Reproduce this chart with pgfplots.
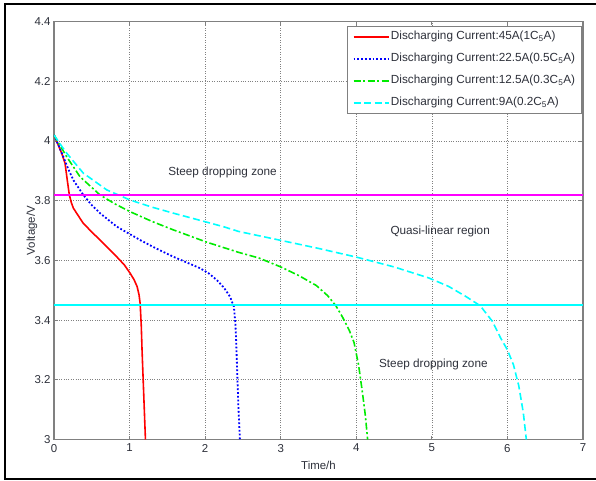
\documentclass[border=0pt]{standalone}
\usepackage{pgfplots}
\pgfplotsset{compat=1.18}
\usepackage{fontspec}
\setmainfont{Liberation Sans}
\definecolor{axgray}{RGB}{128,128,128}
\definecolor{txtgray}{RGB}{45,48,58}
\definecolor{myred}{RGB}{255,0,0}
\definecolor{myblue}{RGB}{0,0,255}
\definecolor{mygreen}{RGB}{0,235,0}
\definecolor{mycyan}{RGB}{0,255,255}
\definecolor{mymag}{RGB}{255,0,255}
\begin{document}
\begin{tikzpicture}[x=1bp,y=1bp]
\begin{axis}[
  at={(0,0)}, anchor=south west,
  scale only axis, width=529bp, height=418bp,
  xmin=0, xmax=7, ymin=3, ymax=4.4,
  xtick={0,1,...,7}, ytick={3,3.2,...,4.4},
  yticklabels={3,3.2,3.4,3.6,3.8,4,4.2,4.4},
  tick align=inside,
  major tick length=4bp,
  axis line style={axgray, line width=1.2pt},
  tick style={axgray, line width=0.8pt},
  grid=major,
  major grid style={dotted, gray, line width=0.7pt},
  ticklabel style={font=\fontsize{11.5}{13}\selectfont, text=txtgray},
  xticklabel style={yshift=-1bp},
  /pgf/number format/assume math mode=true,
  xlabel={Time/h}, ylabel={Voltage/V},
  label style={font=\fontsize{11.5}{13}\selectfont, text=txtgray},
  xlabel style={at={(axis description cs:0.5,0)}, anchor=center, yshift=-26bp},
  ylabel style={at={(axis description cs:-0.0416,0.5)}, anchor=center},
  legend style={at={(rel axis cs:1,1)}, anchor=north east, xshift=-1bp, yshift=-4.5bp,
    draw=axgray, line width=0.8pt, font=\fontsize{11.8}{13}\selectfont, text=txtgray,
    row sep=7bp, inner xsep=5bp, inner ysep=3bp,
    nodes={inner sep=1.5bp, text height=9bp, text depth=3bp}},
  legend cell align=left,
  legend image code/.code={\draw[#1] (0bp,0bp) -- (35bp,0bp);},
]
\addplot[myred, line width=1.6pt] coordinates {
(0,4.02) (0.05,3.99) (0.1,3.96) (0.146,3.925) (0.175,3.87) (0.203,3.819) (0.23,3.793) (0.256,3.775)
(0.32,3.75) (0.388,3.724) (0.5,3.695) (0.609,3.668) (0.72,3.64) (0.83,3.612) (0.93,3.585)
(1.007,3.557) (1.06,3.535) (1.10,3.512) (1.125,3.485) (1.14,3.456) (1.155,3.38) (1.165,3.3)
(1.18,3.2) (1.195,3.1) (1.21,3.0)};
\addlegendentry{Discharging Current:45A(1C\textsubscript{5}A)}
\addplot[myblue, line width=1.8pt, dotted] coordinates {
(0,4.02) (0.06,3.985) (0.123,3.947) (0.19,3.905) (0.256,3.869) (0.388,3.819) (0.5,3.785)
(0.609,3.758) (0.83,3.713) (1.14,3.668) (1.35,3.64) (1.58,3.612) (1.93,3.574) (2.05,3.556)
(2.155,3.534) (2.25,3.508) (2.33,3.478) (2.38,3.445) (2.40,3.39) (2.41,3.333)
(2.425,3.22) (2.44,3.11) (2.46,3.0)};
\addlegendentry{Discharging Current:22.5A(0.5C\textsubscript{5}A)}
\addplot[mygreen, line width=1.6pt, dash pattern=on 7bp off 2.5bp on 2bp off 2.5bp] coordinates {
(0,4.02) (0.08,3.985) (0.168,3.947) (0.344,3.88) (0.609,3.819) (0.8,3.79) (1.007,3.763)
(1.3,3.73) (1.58,3.702) (2.02,3.661) (2.44,3.627) (2.71,3.608) (3.0,3.578) (3.24,3.549)
(3.47,3.516) (3.62,3.482) (3.73,3.448) (3.82,3.409) (3.91,3.364) (3.97,3.325) (4.03,3.25)
(4.08,3.16) (4.12,3.08) (4.15,3.0)};
\addlegendentry{Discharging Current:12.5A(0.3C\textsubscript{5}A)}
\addplot[mycyan, line width=1.6pt, dash pattern=on 7bp off 3.5bp] coordinates {
(0,4.02) (0.08,3.99) (0.168,3.959) (0.388,3.892) (0.698,3.836) (1.007,3.802) (1.3,3.778)
(1.58,3.758) (2.24,3.713) (2.44,3.697) (3.0,3.667) (3.5,3.64) (4.0,3.611) (4.5,3.578)
(4.96,3.541) (5.22,3.513) (5.45,3.479) (5.64,3.448) (5.8,3.396) (5.91,3.34) (6.0,3.3)
(6.08,3.25) (6.15,3.18) (6.21,3.09) (6.25,3.0)};
\addlegendentry{Discharging Current:9A(0.2C\textsubscript{5}A)}
\addplot[mymag, line width=2.2pt, forget plot] coordinates {(0,3.82) (7,3.82)};
\addplot[mycyan, line width=2.2pt, forget plot] coordinates {(0,3.45) (7,3.45)};
\node[font=\fontsize{11.8}{14}\selectfont, text=txtgray] at (axis cs:2.23,3.896) {Steep dropping zone};
\node[font=\fontsize{11.8}{14}\selectfont, text=txtgray] at (axis cs:5.11,3.698) {Quasi-linear region};
\node[font=\fontsize{11.8}{14}\selectfont, text=txtgray] at (axis cs:5.02,3.25) {Steep dropping zone};
\end{axis}
\useasboundingbox (-54bp,-41.5bp) rectangle (542bp,439.5bp);
\draw[black, line width=2bp] (542bp,435.5bp) -- (-49bp,435.5bp) -- (-49bp,-39bp) -- (542bp,-39bp);
\end{tikzpicture}
\end{document}
